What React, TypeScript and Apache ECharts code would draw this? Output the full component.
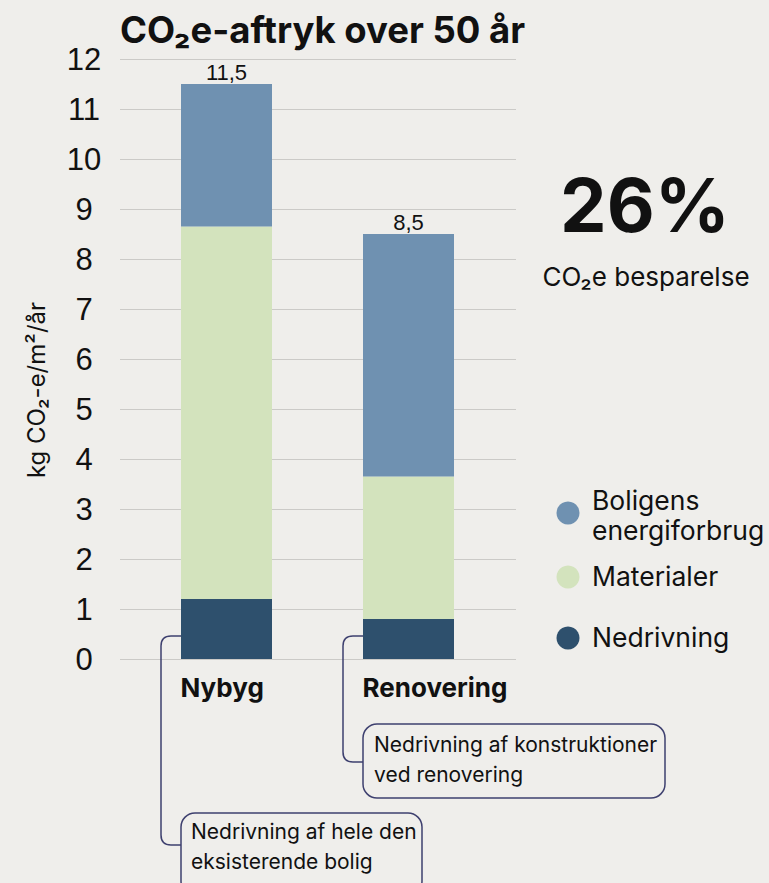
import React, { useEffect, useRef } from 'react';
import * as echarts from 'echarts';

// Data
const categories = ['Nybyg', 'Renovering'];
const nedrivning = [1.2, 0.8];
const materialer = [7.45, 2.85];
const energiforbrug = [2.85, 4.85];
const seriesNames = ['Boligens energiforbrug', 'Materialer', 'Nedrivning'];
const legendLabels = ['Boligens\nenergiforbrug', 'Materialer', 'Nedrivning'];
const notes = ['Nedrivning af hele den\neksisterende bolig', 'Nedrivning af konstruktioner\nved renovering'];
const yMin = 0;
const yMax = 12;
const yInterval = 1;

const COLORS = {
  energi: '#6f91b1',
  materialer: '#d3e3bd',
  nedrivning: '#2e506d',
  bg: '#efeeeb',
  text: '#111111',
  grid: '#cbcac7',
  note: '#3e406f',
};
const FONT = 'Inter, "Liberation Sans", sans-serif';
const NUM_FONT = '"Liberation Sans", Arial, sans-serif';

// Elbow connector with rounded corners: from (x1,y1) left to x2, down to y2, right to x3
echarts.graphic.registerShape(
  'elbow',
  echarts.graphic.extendShape({
    type: 'elbow',
    shape: { x1: 0, y1: 0, x2: 0, y2: 0, x3: 0, r: 10 },
    buildPath(ctx: any, s: any) {
      ctx.moveTo(s.x1, s.y1);
      ctx.lineTo(s.x2 + s.r, s.y1);
      ctx.quadraticCurveTo(s.x2, s.y1, s.x2, s.y1 + s.r);
      ctx.lineTo(s.x2, s.y2 - s.r);
      ctx.quadraticCurveTo(s.x2, s.y2, s.x2 + s.r, s.y2);
      ctx.lineTo(s.x3, s.y2);
    },
  }) as any
);

const totals = categories.map((_, i) => nedrivning[i] + materialer[i] + energiforbrug[i]);
const fmt = (v: number) => v.toFixed(1).replace('.', ',');

export default function App() {
  const ref = useRef<HTMLDivElement>(null);

  useEffect(() => {
    if (!ref.current) return;
    const chart = echarts.init(ref.current, undefined, { renderer: 'svg' });
    const barWidth = 91;

    const option: any = {
      animation: false,
      backgroundColor: COLORS.bg,
      textStyle: { fontFamily: FONT },
      grid: [
        { left: 120, right: 253, top: 59, bottom: 224 },
        { left: 135.5, width: 364, top: 59, bottom: 224 },
      ],
      xAxis: [
        { type: 'value', gridIndex: 0, show: false },
        {
          type: 'category',
          gridIndex: 1,
          data: categories,
          axisLine: { show: false },
          axisTick: { show: false },
          // category names are drawn left-aligned with each bar below
          axisLabel: { show: false },
        },
      ],
      yAxis: [
        {
          type: 'value',
          gridIndex: 0,
          min: yMin,
          max: yMax,
          interval: yInterval,
          axisLine: { show: false },
          axisTick: { show: false },
          axisLabel: {
            align: 'center',
            margin: 36,
            fontSize: 31,
            color: COLORS.text,
            fontFamily: NUM_FONT,
          },
          splitLine: { lineStyle: { color: COLORS.grid, width: 1.2 } },
        },
        { type: 'value', gridIndex: 1, min: yMin, max: yMax, interval: yInterval, show: false },
      ],
      series: [
        {
          name: seriesNames[2],
          type: 'bar',
          stack: 'total',
          xAxisIndex: 1,
          yAxisIndex: 1,
          barWidth,
          itemStyle: { color: COLORS.nedrivning },
          data: nedrivning,
        },
        {
          name: seriesNames[1],
          type: 'bar',
          stack: 'total',
          xAxisIndex: 1,
          yAxisIndex: 1,
          barWidth,
          itemStyle: { color: COLORS.materialer },
          data: materialer,
        },
        {
          name: seriesNames[0],
          type: 'bar',
          stack: 'total',
          xAxisIndex: 1,
          yAxisIndex: 1,
          barWidth,
          itemStyle: { color: COLORS.energi },
          data: energiforbrug,
          label: {
            show: true,
            position: 'top',
            distance: 1,
            fontSize: 22,
            color: COLORS.text,
            fontFamily: NUM_FONT,
            formatter: (p: any) => fmt(totals[p.dataIndex]),
          },
        },
      ],
    };
    chart.setOption(option);

    // Positions anchored to the left edge of each bar
    const anchorY = 636;
    const lefts = categories.map(
      (_, i) => (chart.convertToPixel({ gridIndex: 1 }, [i, 0]) as number[])[0] - barWidth / 2
    );
    const baseY = (chart.convertToPixel({ gridIndex: 1 }, [0, 0]) as number[])[1];
    const [left0, left1] = lefts;

    const noteStyle = { fill: 'none', stroke: COLORS.note, lineWidth: 1.5 };
    const legendColors = [COLORS.energi, COLORS.materialer, COLORS.nedrivning];
    const legendY = [513, 577, 638];

    const graphic: any[] = [
      {
        type: 'text',
        x: 120,
        y: 30,
        style: {
          text: 'CO₂e-aftryk over 50 år',
          fontSize: 36.5,
          fontWeight: 'bold',
          fill: COLORS.text,
          verticalAlign: 'middle',
          fontFamily: FONT,
        },
      },
      {
        type: 'text',
        x: 36,
        y: 390,
        rotation: Math.PI / 2,
        style: {
          text: 'kg CO₂-e/m²/år',
          fontSize: 24,
          fill: COLORS.text,
          align: 'center',
          verticalAlign: 'middle',
          fontFamily: FONT,
        },
      },
      {
        type: 'text',
        x: 645,
        y: 205,
        style: {
          text: '26%',
          fontSize: 74,
          fontWeight: 'bold',
          fill: COLORS.text,
          align: 'center',
          verticalAlign: 'middle',
          fontFamily: FONT,
        },
      },
      {
        type: 'text',
        x: 646,
        y: 276,
        style: {
          text: 'CO₂e besparelse',
          fontSize: 26,
          fill: COLORS.text,
          align: 'center',
          verticalAlign: 'middle',
          fontFamily: FONT,
        },
      },
      // Connectors
      {
        type: 'elbow',
        shape: { x1: left0, y1: anchorY, x2: left0 - 20, y2: 845, x3: left0, r: 10 },
        style: noteStyle,
      },
      {
        type: 'elbow',
        shape: { x1: left1, y1: anchorY, x2: left1 - 20, y2: 762, x3: left1, r: 10 },
        style: noteStyle,
      },
      // Note boxes
      {
        type: 'rect',
        shape: { x: left0, y: 813, width: 241, height: 82, r: 14 },
        style: noteStyle,
      },
      {
        type: 'text',
        x: left0 + 10,
        y: 846,
        style: {
          text: notes[0],
          fontSize: 21,
          lineHeight: 30,
          fill: COLORS.text,
          verticalAlign: 'middle',
          fontFamily: FONT,
        },
      },
      {
        type: 'rect',
        shape: { x: left1, y: 724, width: 302, height: 74, r: 14 },
        style: noteStyle,
      },
      {
        type: 'text',
        x: left1 + 11,
        y: 759,
        style: {
          text: notes[1],
          fontSize: 21,
          lineHeight: 30,
          fill: COLORS.text,
          verticalAlign: 'middle',
          fontFamily: FONT,
        },
      },
    ];

    // Category names, left-aligned under each bar
    categories.forEach((name, i) => {
      graphic.push({
        type: 'text',
        x: lefts[i] - 0.5,
        y: baseY + 28,
        style: {
          text: name,
          fontSize: 26,
          fontWeight: 'bold',
          fill: COLORS.text,
          verticalAlign: 'middle',
          fontFamily: FONT,
        },
      });
    });

    legendLabels.forEach((label, i) => {
      graphic.push({
        type: 'circle',
        shape: { cx: 568, cy: legendY[i], r: 11.5 },
        style: { fill: legendColors[i] },
      });
      graphic.push({
        type: 'text',
        x: 592,
        y: i === 0 ? 515 : legendY[i] - 1,
        style: {
          text: label,
          fontSize: 26.5,
          lineHeight: 30,
          fill: COLORS.text,
          verticalAlign: 'middle',
          fontFamily: FONT,
        },
      });
    });

    chart.setOption({ graphic });

    return () => chart.dispose();
  }, []);

  return (
    <div
      ref={ref}
      style={{ width: 769, height: 883, position: 'absolute', left: 0, top: 0 }}
    />
  );
}
